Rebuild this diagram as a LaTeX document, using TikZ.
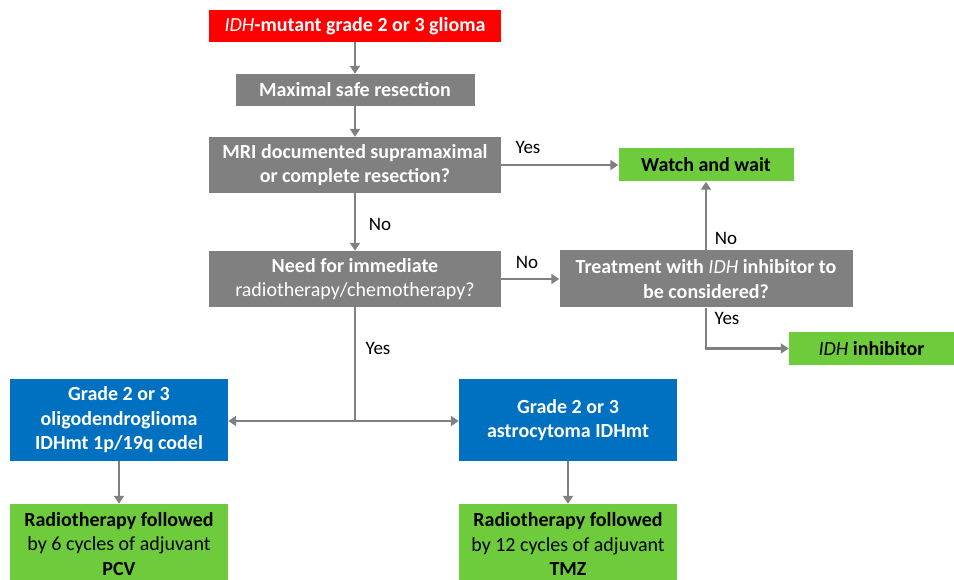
\documentclass[tikz,border=0pt]{standalone}
\usepackage{fontspec}
\setmainfont{Carlito}
\usetikzlibrary{arrows.meta, positioning, calc}
\definecolor{alarmred}{RGB}{255, 0, 0}
\definecolor{stepgrey}{RGB}{128, 128, 128}
\definecolor{typeblue}{RGB}{0, 112, 192}
\definecolor{careGreen}{RGB}{110, 204, 60}

\begin{document}
\begin{tikzpicture}[x=1pt, y=-1pt,
    flowbox/.style={inner sep=0pt, align=center,
      font=\fontsize{20}{24.5}\selectfont\bfseries},
    redbox/.style={flowbox, fill=alarmred, text=white},
    greybox/.style={flowbox, fill=stepgrey, text=white},
    bluebox/.style={flowbox, fill=typeblue, text=white,
      minimum width=218pt, minimum height=82pt},
    greenbox/.style={flowbox, fill=careGreen, text=black},
    conn/.style={draw=stepgrey, line width=2.8pt,
      -{Triangle[length=8pt, width=10pt]}},
    lbl/.style={font=\fontsize{19}{22}\selectfont}]
        \clip (0,0) rectangle (954,580);

        % Main path
        \node[redbox, minimum width=292pt, minimum height=32pt] (glioma) at (355,26)
          {\textit{\mdseries IDH}-mutant grade 2 or 3 glioma};
        \node[greybox, minimum width=239pt, minimum height=32pt] (resect) at (355,90)
          {Maximal safe resection};
        \node[greybox, minimum width=292pt, minimum height=56pt] (mri) at (355,165)
          {MRI documented supramaximal\\or complete resection?};
        \node[greybox, minimum width=292pt, minimum height=56pt] (need) at (355,279)
          {Need for immediate\\{\mdseries radiotherapy/chemotherapy?}};

        % Right side
        \node[greenbox, minimum width=175pt, minimum height=33pt] (watch) at (706,165)
          {Watch and wait};
        \node[greybox, minimum width=293pt, minimum height=57pt] (treat) at (706,279)
          {Treatment with \textit{\mdseries IDH} inhibitor to\\be considered?};
        \node[greenbox, minimum width=165pt, minimum height=33pt] (idhinh) at (871.5,348.5)
          {\textit{\mdseries IDH} inhibitor};

        % Tumour types and treatments
        \node[bluebox] (oligo) at (119,420)
          {Grade 2 or 3\\oligodendroglioma\\IDHmt 1p/19q codel};
        \node[bluebox] (astro) at (568,420)
          {Grade 2 or 3\\astrocytoma IDHmt};
        \node[greenbox, minimum width=218pt, minimum height=80pt] (pcv) at (119,544)
          {Radiotherapy followed\\{\mdseries by 6 cycles of adjuvant}\\PCV};
        \node[greenbox, minimum width=218pt, minimum height=80pt] (tmz) at (568,544)
          {Radiotherapy followed\\{\mdseries by 12 cycles of adjuvant}\\TMZ};

        % Connectors
        \draw[conn] (glioma) -- (resect);
        \draw[conn] (resect) -- (mri);
        \draw[conn] (mri) -- (need);
        \draw[conn] (mri) -- (watch);
        \draw[conn] (need) -- (treat);
        \draw[conn] (treat) -- (watch);
        \draw[conn] (treat.south) |- (idhinh.west);
        \coordinate (split) at (355,421);
        \draw[draw=stepgrey, line width=2.8pt] (need.south) -- (split);
        \draw[conn] (split) -- (oligo.east |- split);
        \draw[conn] (split) -- (astro.west |- split);
        \draw[conn] (oligo) -- (pcv);
        \draw[conn] (astro) -- (tmz);

        % Answers
        \node[lbl] (yes1) at (528,147) {Yes};
        \node[lbl] (no1) at (380,224) {No};
        \node[lbl] (no2) at (527,262) {No};
        \node[lbl] (no3) at (726,238) {No};
        \node[lbl] (yes2) at (727,318) {Yes};
        \node[lbl] (yes3) at (378,348) {Yes};
      \end{tikzpicture}
\end{document}
